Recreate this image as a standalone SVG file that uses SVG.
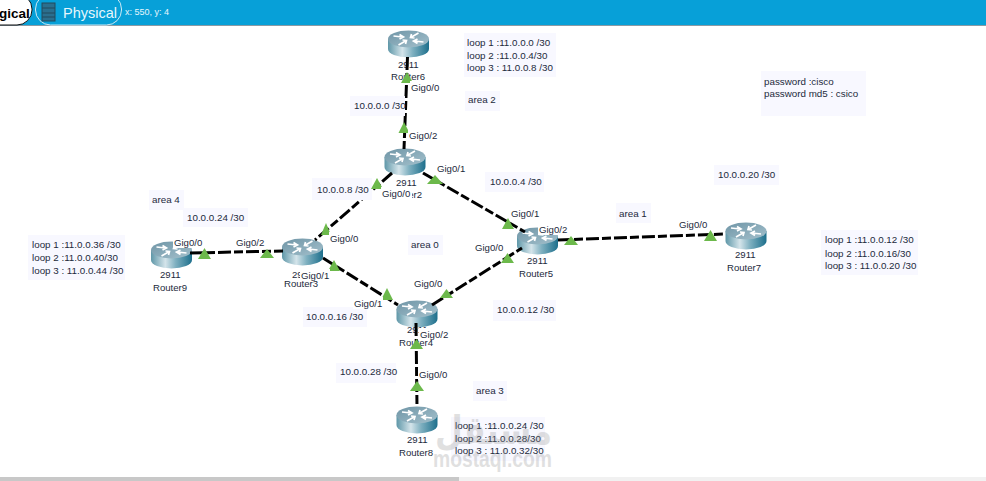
<svg xmlns="http://www.w3.org/2000/svg" width="986" height="481" viewBox="0 0 986 481">
<style>
text{font-family:"Liberation Sans",Arial,sans-serif;font-size:9.600px;fill:#1c2a3c}
.n{font-size:9.800px}
.bg{fill:#f8f8ff}
.w{fill:#fff}
.c{fill:none;stroke:#000;stroke-width:3;stroke-dasharray:13 3 9 3}
.t{fill:#6cb94b}
.a{fill:none;stroke:#fff;stroke-width:1.700}
</style>
<defs>
<linearGradient id="body" x1="0" x2="1" y1="0" y2="0">
<stop offset="0" stop-color="#5f97a8"/><stop offset=".35" stop-color="#d4e4ea"/><stop offset=".6" stop-color="#7fb0c0"/><stop offset="1" stop-color="#1d6f8c"/>
</linearGradient>
<linearGradient id="top" x1="0" x2="1" y1="0" y2="1">
<stop offset="0" stop-color="#6f95a6"/><stop offset="1" stop-color="#a3c0cc"/>
</linearGradient>
<g id="router">
<path d="M-20.500 0V10A20.500 8.500 0 0 0 20.500 10V0Z" fill="url(#body)"/>
<ellipse rx="20.500" ry="8.500" fill="url(#top)"/>
<path class="a" d="M-15 -3L-6 -2M-9 -4.500L-5 -2L-9 0M15 3L6 2M9 4.500L5 2L9 0M3 -2L10 -6M3 -5L2 -1.500L6 -1M-3 2L-10 6M-3 5L-2 1.500L-6 1"/>
</g>
</defs>
<rect width="986" height="481" fill="#fff"/>
<g id="toolbar">
<rect width="986" height="26" fill="#07a0d8"/>
<rect y="25" width="986" height="1" fill="#8a9aa4"/>
<rect x="-30" y="-6" width="62" height="31" rx="15" fill="#fff" stroke="#111"/>
<text x="-1" y="18" style="font-size:13.500px;font-weight:bold;fill:#000">gical</text>
<rect x="35.500" y="-6" width="86" height="31" rx="15" fill="#07a0d8" stroke="#cfeaf5"/>
<rect x="42" y="3" width="13" height="18" fill="#2b6f8e" stroke="#234a5c"/>
<path d="M42 8H55M42 13H55M42 17H55" stroke="#234a5c" fill="none"/>
<text x="63" y="18" style="font-size:14.500px;fill:#e6f6fc">Physical</text>
<text x="125" y="15" style="font-size:9px;fill:#e6f6fc">x: 550, y: 4</text>
</g>
<g id="notes">
<rect class="bg" x="464" y="33" width="92" height="44"/>
<rect class="bg" x="465" y="91" width="35" height="20"/>
<rect class="bg" x="761" y="71" width="105" height="45"/>
<rect class="bg" x="485" y="172" width="59" height="20"/>
<rect class="bg" x="714" y="165" width="65" height="20"/>
<rect class="bg" x="149" y="190" width="35" height="20"/>
<rect class="bg" x="183" y="208" width="65" height="19"/>
<rect class="bg" x="28" y="235" width="97" height="45"/>
<rect class="bg" x="408" y="235" width="35" height="20"/>
<rect class="bg" x="616" y="203" width="35" height="20"/>
<rect class="bg" x="821" y="230" width="97" height="45"/>
<rect class="bg" x="303" y="307" width="64" height="20"/>
<rect class="bg" x="493" y="300" width="63" height="21"/>
<rect class="bg" x="336" y="363" width="60" height="20"/>
<rect class="bg" x="473" y="381" width="34" height="20"/>
<rect class="bg" x="451" y="417" width="94" height="44"/>
<text class="n" x="467" y="46">loop 1 :11.0.0.0 /30</text>
<text class="n" x="467" y="59">loop 2 :11.0.0.4/30</text>
<text class="n" x="467" y="71">loop 3 : 11.0.0.8 /30</text>
<text class="n" x="468" y="103">area 2</text>
<text class="n" x="764" y="85">password :cisco</text>
<text class="n" x="764" y="97">password md5 : csico</text>
<text class="n" x="490" y="185">10.0.0.4 /30</text>
<text class="n" x="718" y="178">10.0.0.20 /30</text>
<text class="n" x="152" y="203">area 4</text>
<text class="n" x="187" y="221">10.0.0.24 /30</text>
<text class="n" x="32" y="248">loop 1 :11.0.0.36 /30</text>
<text class="n" x="32" y="261">loop 2 :11.0.0.40/30</text>
<text class="n" x="32" y="274">loop 3 : 11.0.0.44 /30</text>
<text class="n" x="411" y="248">area 0</text>
<text class="n" x="619" y="217">area 1</text>
<text class="n" x="825" y="243">loop 1 :11.0.0.12 /30</text>
<text class="n" x="825" y="257">loop 2 :11.0.0.16/30</text>
<text class="n" x="825" y="269">loop 3 : 11.0.0.20 /30</text>
<text class="n" x="306" y="320">10.0.0.16 /30</text>
<text class="n" x="497" y="313">10.0.0.12 /30</text>
<text class="n" x="340" y="375">10.0.0.28 /30</text>
<text class="n" x="476" y="394">area 3</text>
<text class="n" x="455" y="429">loop 1 :11.0.0.24 /30</text>
<text class="n" x="455" y="442">loop 2 :11.0.0.28/30</text>
<text class="n" x="455" y="454">loop 3 : 11.0.0.32/30</text>
</g>
<g id="router6"><use href="#router" x="408.500" y="39"/><text x="398" y="68">2911</text><text x="391" y="80">Router6</text></g>
<g id="router2"><use href="#router" x="405" y="157"/><text x="396" y="186">2911</text><text x="388" y="198">Router2</text></g>
<g id="router3"><use href="#router" x="302.500" y="247"/><text x="292" y="278">2911</text><text x="284" y="287">Router3</text></g>
<g id="router9"><use href="#router" x="171.500" y="250"/><text x="160" y="278">2911</text><text x="153" y="291">Router9</text></g>
<g id="router4"><use href="#router" x="417" y="309"/><text x="407" y="333">2911</text><text x="399" y="346">Router4</text></g>
<g id="router8"><use href="#router" x="417" y="415"/><text x="407" y="443">2911</text><text x="399" y="456">Router8</text></g>
<g id="router5"><use href="#router" x="537.500" y="236"/><text x="527" y="264">2911</text><text x="519" y="277">Router5</text></g>
<g id="router7"><use href="#router" x="746" y="231"/><text x="735" y="258">2911</text><text x="727" y="271">Router7</text></g>
<g id="connectors">
<path class="c" d="M407.500 57L404 149"/>
<path class="c" d="M392 173L315 240"/>
<path class="c" d="M423 173L525 232"/>
<path class="c" d="M323 258L398 305"/>
<path class="c" d="M190 253L283 251"/>
<path class="c" d="M432 305L522 248"/>
<path class="c" d="M416 323L417 407"/>
<path class="c" d="M558 240L725 234"/>
</g>
<g id="notes-over-links">
<rect class="bg" x="350" y="96" width="55" height="20"/>
<rect class="bg" x="312" y="178" width="60" height="22"/>
<text class="n" x="354" y="109">10.0.0.0 /30</text>
<text class="n" x="317" y="193">10.0.0.8 /30</text>
</g>
<g id="link-lights">
<path class="t" d="M407 72L401 83H413Z"/>
<path class="t" d="M404 122L398.500 133H409.500Z"/>
<path class="t" d="M377 178L371 189H383Z"/>
<path class="t" d="M435 175L427 184H443Z"/>
<path class="t" d="M508 218L502 229H514Z"/>
<path class="t" d="M507.500 253L501 263H514Z"/>
<path class="t" d="M571 236L564 245H578Z"/>
<path class="t" d="M710.500 230L704 241H717Z"/>
<path class="t" d="M267 249L260 258H274Z"/>
<path class="t" d="M204.500 248L198 259H211Z"/>
<path class="t" d="M326 223L321 235H331Z"/>
<path class="t" d="M334 260L328 271H340Z"/>
<path class="t" d="M387 288L381 300H393Z"/>
<path class="t" d="M446.500 289L440 298H453Z"/>
<path class="t" d="M416.500 339L410 349H423Z"/>
<path class="t" d="M417 381L410 391H424Z"/>
</g>
<g id="port-labels">
<rect class="w" x="410" y="81" width="30" height="12"/><text x="411" y="91">Gig0/0</text>
<rect class="w" x="408" y="129" width="30" height="12"/><text x="409" y="139">Gig0/2</text>
<rect class="w" x="436" y="162" width="30" height="12"/><text x="437" y="172">Gig0/1</text>
<rect class="w" x="381" y="187" width="31" height="12"/><text x="382" y="197">Gig0/0</text>
<rect class="w" x="510" y="207" width="30" height="12"/><text x="511" y="217">Gig0/1</text>
<rect class="w" x="173" y="236" width="30" height="12"/><text x="174" y="246">Gig0/0</text>
<rect class="w" x="235" y="236" width="30" height="12"/><text x="236" y="246">Gig0/2</text>
<rect class="w" x="329" y="232" width="30" height="12"/><text x="330" y="242">Gig0/0</text>
<rect class="w" x="300" y="269" width="30" height="12"/><text x="301" y="279">Gig0/1</text>
<rect class="w" x="474" y="241" width="30" height="12"/><text x="475" y="251">Gig0/0</text>
<rect class="w" x="413" y="277" width="30" height="12"/><text x="414" y="287">Gig0/0</text>
<rect class="w" x="353" y="297" width="30" height="12"/><text x="354" y="307">Gig0/1</text>
<rect class="w" x="419" y="328" width="30" height="12"/><text x="420" y="338">Gig0/2</text>
<rect class="w" x="418" y="368" width="30" height="12"/><text x="419" y="378">Gig0/0</text>
<rect class="w" x="538" y="223" width="30" height="12"/><text x="539" y="233">Gig0/2</text>
<rect class="w" x="678" y="218" width="30" height="12"/><text x="679" y="228">Gig0/0</text>
</g>
<g id="watermark" opacity=".25">
<text x="433" y="467" textLength="119" lengthAdjust="spacingAndGlyphs" style="font-size:23px;font-weight:bold;fill:#888">mostaql.com</text>
<text x="435" y="444" textLength="117" lengthAdjust="spacingAndGlyphs" style="font-family:'DejaVu Sans',sans-serif;font-size:40px;font-weight:bold;fill:#888">مستقل</text>
</g>
<g id="scrollbar">
<rect y="477" width="986" height="4" fill="#f1f1f1"/>
<rect y="477" width="459" height="4" fill="#c8c8c8"/>
</g>
</svg>
